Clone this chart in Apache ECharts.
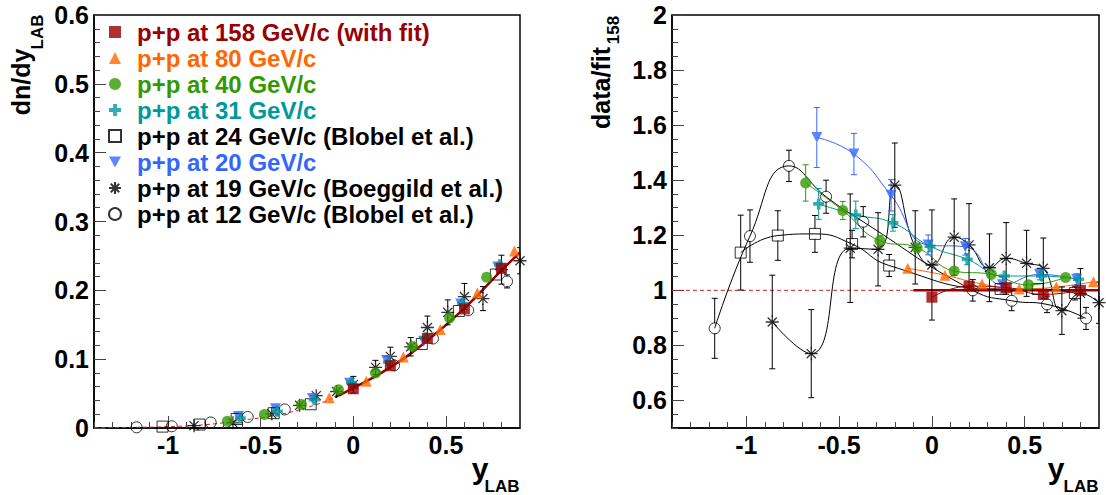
<!DOCTYPE html>
<html><head><meta charset="utf-8">
<script src="https://cdn.jsdelivr.net/npm/echarts@6/dist/echarts.min.js"></script>
<style>html,body{margin:0;padding:0;background:#fff}#c{width:1106px;height:495px}</style>
</head><body><div id="c"></div>
<script>
// ---------------- data ----------------
const xTickLabels = [-1, -0.5, 0, 0.5];
const yLeftTicks = [0, 0.1, 0.2, 0.3, 0.4, 0.5, 0.6];
const yRightTicks = [0.6, 0.8, 1.0, 1.2, 1.4, 1.6, 1.8, 2.0];

// fit to 158 GeV/c data (left panel)
const fitX = [-1.4, -1.2, -1.0, -0.8, -0.6, -0.4, -0.2, -0.1, 0.0, 0.2, 0.4, 0.6, 0.8, 0.9];
const fitY = [0.0003, 0.0009, 0.002, 0.0048, 0.0113, 0.0195, 0.034, 0.045, 0.058, 0.088, 0.127, 0.174, 0.229, 0.255];
// ratio reference line (right panel)
const refX = [-1.4, -0.1, 0.9];
const refY = [1, 1, 1];

const pp158X = [0.0, 0.2, 0.4, 0.6, 0.8];
const pp158Y = [0.057, 0.0905, 0.13, 0.173, 0.232];
const pp158R = [0.975, 1.015, 1.01, 0.985, 1.0];

const pp80X = [-0.13, 0.07, 0.27, 0.47, 0.67, 0.87];
const pp80Y = [0.044, 0.068, 0.103, 0.143, 0.196, 0.257];
const pp80E = [0.0005, 0.0007, 0.001, 0.0014, 0.002, 0.0026];
const pp80R = [1.08, 1.055, 1.023, 1.005, 1.012, 1.031];
const pp80RE = [0.015, 0.013, 0.012, 0.012, 0.012, 0.012];

const pp40X = [-0.68, -0.48, -0.28, -0.08, 0.12, 0.32, 0.52, 0.72];
const pp40Y = [0.0099, 0.0196, 0.034, 0.0555, 0.080, 0.1185, 0.160, 0.219];
const pp40E = [0.0005, 0.0005, 0.0006, 0.0007, 0.001, 0.0012, 0.0016, 0.0022];
const pp40R = [1.39, 1.29, 1.18, 1.155, 1.07, 1.058, 1.02, 1.047];
const pp40RE = [0.066, 0.033, 0.02, 0.015, 0.012, 0.01, 0.01, 0.01];

const pp31X = [-0.61, -0.41, -0.21, -0.01, 0.19, 0.39, 0.59, 0.79];
const pp31Y = [0.0145, 0.0242, 0.041, 0.066, 0.096, 0.131, 0.181, 0.237];
const pp31E = [0.0006, 0.0009, 0.001, 0.0011, 0.0017, 0.0019, 0.0021, 0.0027];
const pp31R = [1.314, 1.274, 1.245, 1.16, 1.113, 1.052, 1.052, 1.04];
const pp31RE = [0.056, 0.05, 0.03, 0.02, 0.02, 0.015, 0.012, 0.012];

const pp24X = [-1.03, -0.83, -0.63, -0.43, -0.23, 0.37, 0.57, 0.77];
const pp24Y = [0.002, 0.005, 0.013, 0.0215, 0.0345, 0.122, 0.170, 0.223];
const pp24E = [0.0003, 0.0004, 0.0007, 0.0009, 0.0013, 0.0022, 0.003, 0.0056];
const pp24R = [1.137, 1.199, 1.205, 1.168, 1.09, 1.005, 1.005, 0.99];
const pp24RE = [0.136, 0.09, 0.067, 0.05, 0.04, 0.018, 0.018, 0.025];

const pp20X = [-0.62, -0.42, -0.22, -0.02, 0.18, 0.38, 0.58, 0.78];
const pp20Y = [0.0168, 0.028, 0.043, 0.065, 0.098, 0.126, 0.18, 0.234];
const pp20E = [0.0012, 0.0014, 0.0018, 0.002, 0.0026, 0.0037, 0.0034, 0.0045];
const pp20R = [1.555, 1.495, 1.345, 1.165, 1.158, 1.02, 1.058, 1.04];
const pp20RE = [0.109, 0.075, 0.057, 0.036, 0.03, 0.03, 0.02, 0.02];

const pp19X = [-0.86, -0.65, -0.44, -0.29, -0.2, -0.09, 0.0, 0.12, 0.2, 0.31, 0.4, 0.51, 0.6, 0.7, 0.8, 0.9];
const pp19Y = [0.0034, 0.0075, 0.0206, 0.033, 0.047, 0.053, 0.063, 0.088, 0.104, 0.118, 0.146, 0.168, 0.191, 0.188, 0.23, 0.243];
const pp19E = [0.0006, 0.0015, 0.0035, 0.0037, 0.0052, 0.0061, 0.012, 0.0103, 0.0134, 0.0134, 0.0166, 0.0181, 0.019, 0.0175, 0.021, 0.019];
const pp19R = [0.885, 0.77, 1.153, 1.149, 1.382, 1.156, 1.092, 1.193, 1.165, 1.082, 1.116, 1.098, 1.08, 0.926, 0.989, 0.955];
const pp19RE = [0.17, 0.16, 0.197, 0.133, 0.153, 0.133, 0.2, 0.139, 0.15, 0.123, 0.13, 0.12, 0.11, 0.086, 0.09, 0.075];

const pp12X = [-1.17, -0.98, -0.77, -0.57, -0.37, 0.22, 0.43, 0.62, 0.83];
const pp12Y = [0.001, 0.0025, 0.008, 0.016, 0.027, 0.091, 0.13, 0.171, 0.213];
const pp12E = [0.0001, 0.0002, 0.0003, 0.0008, 0.0012, 0.0036, 0.0048, 0.0054, 0.0095];
const pp12R = [0.862, 1.197, 1.452, 1.34, 1.249, 1.0, 0.962, 0.949, 0.898];
const pp12RE = [0.109, 0.095, 0.057, 0.06, 0.055, 0.039, 0.036, 0.03, 0.04];

const names = {
  p158: 'p+p at 158 GeV/c (with fit)',
  p80: 'p+p at 80 GeV/c',
  p40: 'p+p at 40 GeV/c',
  p31: 'p+p at 31 GeV/c',
  p24: 'p+p at 24 GeV/c (Blobel et al.)',
  p20: 'p+p at 20 GeV/c',
  p19: 'p+p at 19 GeV/c (Boeggild et al.)',
  p12: 'p+p at 12 GeV/c (Blobel et al.)'
};

// ---------------- styling ----------------
const FONT = '"Liberation Sans", Arial, Helvetica, sans-serif';
const C = { red: '#990000', orange: '#ff6600', green: '#339900', teal: '#009999', blue: '#3366ff', black: '#000000' };
const CROSS = 'path://M3.4,0H6.6V3.4H10V6.6H6.6V10H3.4V6.6H0V3.4H3.4Z';
const STAR = 'path://M5,0L5,10M0,5L10,5M1.5,1.5L8.5,8.5M8.5,1.5L1.5,8.5';
const DOWN = 'path://M0,0L10,0L5,9Z';
const MS = 11;

const pts = (xs, ys) => xs.map((x, i) => [x, ys[i]]);
const errPts = (xs, ys, es) => xs.map((x, i) => [x, ys[i], es[i]]);
const fmt = v => String(Math.round(v * 100) / 100);

function errSeries(id, xs, ys, es, color, xi, yi) {
  const gap = 5, cap = 3;
  return {
    type: 'custom', name: id, xAxisIndex: xi, yAxisIndex: yi, z: 3, silent: true, clip: true,
    data: errPts(xs, ys, es),
    renderItem(params, api) {
      const x = api.value(0), y = api.value(1), e = api.value(2);
      const c = api.coord([x, y]), t = api.coord([x, y + e]), b = api.coord([x, y - e]);
      const st = { stroke: color, lineWidth: 1 };
      const ch = [];
      if (c[1] - t[1] > gap) {
        ch.push({ type: 'line', shape: { x1: c[0], y1: t[1], x2: c[0], y2: c[1] - gap }, style: st });
        ch.push({ type: 'line', shape: { x1: c[0] - cap, y1: t[1], x2: c[0] + cap, y2: t[1] }, style: st });
      }
      if (b[1] - c[1] > gap) {
        ch.push({ type: 'line', shape: { x1: c[0], y1: c[1] + gap, x2: c[0], y2: b[1] }, style: st });
        ch.push({ type: 'line', shape: { x1: c[0] - cap, y1: b[1], x2: c[0] + cap, y2: b[1] }, style: st });
      }
      return { type: 'group', children: ch };
    }
  };
}

const marker = {
  p158: { symbol: 'rect', itemStyle: { color: C.red } },
  p80: { symbol: 'triangle', itemStyle: { color: C.orange } },
  p40: { symbol: 'circle', itemStyle: { color: C.green } },
  p31: { symbol: CROSS, itemStyle: { color: C.teal } },
  p24: { symbol: 'rect', itemStyle: { color: 'transparent', borderColor: '#000', borderWidth: 1 } },
  p20: { symbol: DOWN, itemStyle: { color: C.blue } },
  p19: { symbol: STAR, symbolSize: 13, itemStyle: { color: 'transparent', borderColor: '#000', borderWidth: 1.3 } },
  p12: { symbol: 'circle', itemStyle: { color: 'transparent', borderColor: '#000', borderWidth: 1 } }
};

function scatter(name, key, data, xi, yi) {
  return Object.assign({ type: 'scatter', name, xAxisIndex: xi, yAxisIndex: yi, z: 4, symbolSize: MS, data, silent: true }, marker[key]);
}
function curve(id, data, color, xi, yi, width, dashed) {
  return { type: 'line', name: id, xAxisIndex: xi, yAxisIndex: yi, z: 2, smooth: true, showSymbol: false, silent: true,
    data, lineStyle: { color, width: width || 1, type: dashed ? [4, 3] : 'solid' } };
}

const sets = [
  ['p12', pp12X, pp12Y, pp12E, pp12R, pp12RE, C.black, C.black],
  ['p24', pp24X, pp24Y, pp24E, pp24R, pp24RE, C.black, C.black],
  ['p19', pp19X, pp19Y, pp19E, pp19R, pp19RE, C.black, C.black],
  ['p20', pp20X, pp20Y, pp20E, pp20R, pp20RE, C.blue, C.blue],
  ['p31', pp31X, pp31Y, pp31E, pp31R, pp31RE, C.teal, C.teal],
  ['p40', pp40X, pp40Y, pp40E, pp40R, pp40RE, C.green, C.green],
  ['p80', pp80X, pp80Y, pp80E, pp80R, pp80RE, C.orange, C.orange]
];

const series = [];
// left panel fit
series.push(curve('fitDash', pts(fitX.filter(x => x <= -0.1), fitY.filter((y, i) => fitX[i] <= -0.1)), '#cc2222', 0, 0, 1, true));
series.push(curve('fitSolid', pts(fitX.filter(x => x >= -0.1), fitY.filter((y, i) => fitX[i] >= -0.1)), C.red, 0, 0, 2.5, false));
// right panel reference line
series.push(curve('refDash', pts(refX.slice(0, 2), refY.slice(0, 2)), '#cc2222', 2, 1, 1, true));
series.push(curve('refSolid', pts(refX.slice(1), refY.slice(1)), C.red, 2, 1, 2.5, false));

sets.forEach(([k, X, Y, E, R, RE, col, ecol]) => {
  series.push(errSeries(k + 'errL', X, Y, E, ecol, 0, 0));
  series.push(errSeries(k + 'errR', X, R, RE, ecol, 2, 1));
  series.push(curve(k + 'curveR', pts(X, R), col, 2, 1, 1, false));
});
series.push(curve('p158curveR', pts(pp158X, pp158R), C.red, 2, 1, 1, false));

const order = ['p12', 'p19', 'p20', 'p24', 'p31', 'p40', 'p80', 'p158'];
const dataL = { p158: pts(pp158X, pp158Y), p80: pts(pp80X, pp80Y), p40: pts(pp40X, pp40Y), p31: pts(pp31X, pp31Y),
  p24: pts(pp24X, pp24Y), p20: pts(pp20X, pp20Y), p19: pts(pp19X, pp19Y), p12: pts(pp12X, pp12Y) };
const dataR = { p158: pts(pp158X, pp158R), p80: pts(pp80X, pp80R), p40: pts(pp40X, pp40R), p31: pts(pp31X, pp31R),
  p24: pts(pp24X, pp24R), p20: pts(pp20X, pp20R), p19: pts(pp19X, pp19R), p12: pts(pp12X, pp12R) };
order.forEach(k => {
  series.push(scatter(names[k], k, dataL[k], 0, 0));
  series.push(scatter(k + ' ratio', k, dataR[k], 2, 1));
});

const axLab = { fontFamily: FONT, fontWeight: 'bold', fontSize: 25, color: '#000' };
const tickLine = { color: '#444', width: 1 };
function xPair(gi) {
  return [
    { type: 'value', gridIndex: gi, min: -1.4, max: 0.9, interval: 0.1, position: 'bottom',
      axisLine: { show: true, onZero: false, lineStyle: { color: '#000', width: 1.5 } },
      axisTick: { show: true, inside: true, length: 6, lineStyle: tickLine },
      axisLabel: { show: false }, splitLine: { show: false } },
    { type: 'value', gridIndex: gi, min: -1.4, max: 0.9, position: 'bottom',
      axisLine: { show: false, onZero: false },
      axisTick: { show: true, inside: true, length: 12, customValues: xTickLabels, lineStyle: tickLine },
      axisLabel: Object.assign({ margin: 4, customValues: xTickLabels, formatter: fmt }, axLab),
      splitLine: { show: false } }
  ];
}

const option = {
  animation: false,
  backgroundColor: '#fff',
  grid: [
    { left: 94, top: 15, width: 426, height: 413, show: true, borderColor: '#000', borderWidth: 1.5, backgroundColor: 'transparent' },
    { left: 672, top: 15, width: 427, height: 413, show: true, borderColor: '#000', borderWidth: 1.5, backgroundColor: 'transparent' }
  ],
  xAxis: [...xPair(0), ...xPair(1)],
  yAxis: [
    { type: 'value', gridIndex: 0, min: 0, max: 0.6, interval: 0.1,
      axisLine: { show: true, onZero: false, lineStyle: { color: '#000', width: 1.5 } },
      axisTick: { show: true, inside: true, length: 12, lineStyle: tickLine },
      minorTick: { show: true, splitNumber: 5, length: 6, lineStyle: tickLine },
      axisLabel: Object.assign({ margin: 5, formatter: fmt, customValues: yLeftTicks }, axLab),
      splitLine: { show: false }, minorSplitLine: { show: false } },
    { type: 'value', gridIndex: 1, min: 0.5, max: 2, interval: 0.05,
      axisLine: { show: true, onZero: false, lineStyle: { color: '#000', width: 1.5 } },
      axisTick: { show: true, inside: true, length: 6, lineStyle: tickLine },
      axisLabel: { show: false }, splitLine: { show: false } },
    { type: 'value', gridIndex: 1, min: 0.5, max: 2, position: 'left',
      axisLine: { show: false, onZero: false },
      axisTick: { show: true, inside: true, length: 12, customValues: yRightTicks, lineStyle: tickLine },
      axisLabel: Object.assign({ margin: 5, formatter: fmt, customValues: yRightTicks }, axLab),
      splitLine: { show: false } }
  ],
  legend: {
    orient: 'vertical', left: 108, top: 20, itemWidth: 12, itemHeight: 12, itemGap: 2, padding: 0,
    selectedMode: false,
    textStyle: { fontFamily: FONT, fontWeight: 'bold', fontSize: 24, padding: [0, 0, 0, 11] },
    data: [
      { name: names.p158, textStyle: { color: C.red } },
      { name: names.p80, textStyle: { color: C.orange } },
      { name: names.p40, textStyle: { color: C.green } },
      { name: names.p31, textStyle: { color: C.teal } },
      { name: names.p24, textStyle: { color: '#000' } },
      { name: names.p20, textStyle: { color: C.blue } },
      { name: names.p19, textStyle: { color: '#000' } },
      { name: names.p12, textStyle: { color: '#000' } }
    ]
  },
  graphic: [
    { type: 'text', x: 21, y: 82, rotation: Math.PI / 2, silent: true,
      style: { text: 'dn/dy', fill: '#000', font: 'bold 25px ' + FONT, textAlign: 'center', textVerticalAlign: 'middle', align: 'center', verticalAlign: 'middle' } },
    { type: 'text', x: 37, y: 32, rotation: Math.PI / 2, silent: true,
      style: { text: 'LAB', fill: '#000', font: 'bold 17px ' + FONT, textAlign: 'center', textVerticalAlign: 'middle', align: 'center', verticalAlign: 'middle' } },
    { type: 'text', x: 601, y: 88, rotation: Math.PI / 2, silent: true,
      style: { text: 'data/fit', fill: '#000', font: 'bold 25px ' + FONT, textAlign: 'center', textVerticalAlign: 'middle', align: 'center', verticalAlign: 'middle' } },
    { type: 'text', x: 613, y: 30, rotation: Math.PI / 2, silent: true,
      style: { text: '158', fill: '#000', font: 'bold 17px ' + FONT, textAlign: 'center', textVerticalAlign: 'middle', align: 'center', verticalAlign: 'middle' } },
    { type: 'text', x: 480, y: 468, silent: true,
      style: { text: 'y', fill: '#000', font: 'bold 30px ' + FONT, textAlign: 'center', textVerticalAlign: 'middle', align: 'center', verticalAlign: 'middle' } },
    { type: 'text', x: 502, y: 486, silent: true,
      style: { text: 'LAB', fill: '#000', font: 'bold 17px ' + FONT, textAlign: 'center', textVerticalAlign: 'middle', align: 'center', verticalAlign: 'middle' } },
    { type: 'text', x: 1056, y: 468, silent: true,
      style: { text: 'y', fill: '#000', font: 'bold 30px ' + FONT, textAlign: 'center', textVerticalAlign: 'middle', align: 'center', verticalAlign: 'middle' } },
    { type: 'text', x: 1081, y: 486, silent: true,
      style: { text: 'LAB', fill: '#000', font: 'bold 17px ' + FONT, textAlign: 'center', textVerticalAlign: 'middle', align: 'center', verticalAlign: 'middle' } }
  ],
  series
};

const chart = echarts.init(document.getElementById('c'), null, { renderer: 'svg' });
chart.setOption(option);
</script>
</body></html>
